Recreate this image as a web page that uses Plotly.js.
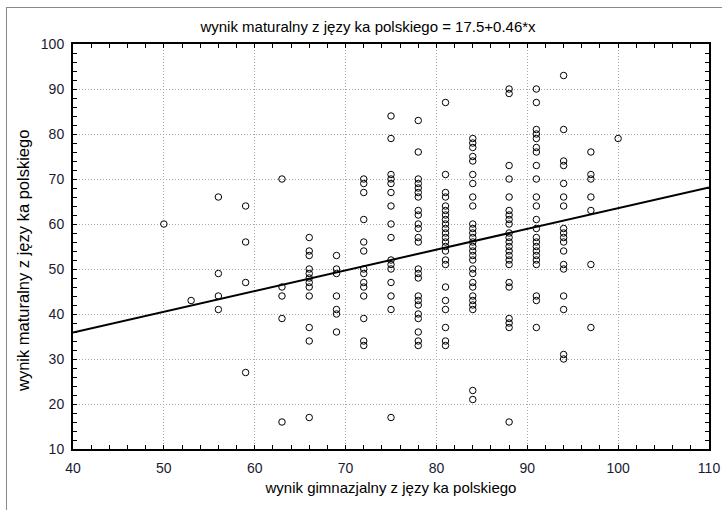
<!DOCTYPE html>
<html>
<head>
<meta charset="utf-8">
<script src="https://cdn.plot.ly/plotly-3.0.1.min.js"></script>
<style>
  html, body { margin: 0; padding: 0; background: #fff; }
  #frame { position: absolute; left: 6px; top: 7px; width: 716px; height: 503px;
           border-left: 1px solid #8a8a8a; border-top: 1px solid #8a8a8a; box-sizing: border-box; pointer-events: none; z-index: 5; }
  #chart { width: 724px; height: 510px; }
</style>
</head>
<body>
<div id="frame"></div>
<div id="chart"></div>
<script>
// Lower-secondary exam score (x) and matura score (y) in Polish, grouped by x value
const gimnazjalny = [50, 53, 56, 59, 63, 66, 69, 72, 75, 78, 81, 84, 88, 91, 94, 97, 100];
const maturalny = [
  [60],
  [43],
  [66, 49, 44, 41],
  [64, 56, 47, 27],
  [70, 46, 44, 39, 16],
  [57, 54, 53, 50, 49, 48, 47, 46, 44, 37, 34, 17],
  [53, 50, 49, 44, 41, 40, 36],
  [70, 69, 67, 61, 56, 54, 50, 49, 47, 46, 44, 39, 34, 33],
  [84, 79, 71, 70, 69, 67, 64, 60, 57, 52, 51, 50, 47, 44, 41, 17],
  [83, 76, 70, 69, 68, 67, 66, 63, 62, 60, 59, 57, 56, 50, 49, 48, 44, 43, 42, 40, 39, 36, 34, 33],
  [87, 71, 67, 66, 64, 63, 62, 61, 60, 59, 58, 57, 56, 55, 54, 52, 51, 46, 43, 41, 37, 34, 33],
  [79, 78, 77, 75, 74, 71, 69, 66, 64, 60, 59, 58, 57, 56, 55, 54, 53, 52, 50, 49, 47, 46, 44, 43, 42, 41, 23, 21],
  [90, 89, 73, 70, 66, 63, 62, 61, 60, 58, 57, 56, 55, 54, 53, 52, 51, 47, 46, 39, 38, 37, 16],
  [90, 87, 81, 80, 79, 77, 76, 73, 70, 66, 64, 61, 59, 57, 56, 55, 54, 53, 52, 51, 44, 43, 37],
  [93, 81, 74, 73, 69, 66, 64, 59, 58, 57, 56, 54, 51, 50, 44, 41, 31, 30],
  [76, 71, 70, 66, 63, 51, 37],
  [79]
];

// Regression line coefficients, as stated in the title
const intercept = 17.5;
const slope = 0.46;
const lineX = [40, 110];

const xTickVals = [40, 50, 60, 70, 80, 90, 100, 110];
const yTickVals = [10, 20, 30, 40, 50, 60, 70, 80, 90, 100];

const titleText = 'wynik maturalny z języ ka polskiego = 17.5+0.46*x';
const xTitleText = 'wynik gimnazjalny z języ ka polskiego';
const yTitleText = 'wynik maturalny z języ ka polskiego';

const px = [], py = [];
gimnazjalny.forEach((g, i) => maturalny[i].forEach(m => { px.push(g); py.push(m); }));

const font = 'Liberation Sans, Arial, sans-serif';
const tickFont = { family: font, size: 14, color: '#1a1a33' };

const axisCommon = {
  showline: true, linecolor: '#000', linewidth: 2, mirror: 'ticks',
  ticks: 'inside', ticklen: 4, tickcolor: '#000', tickwidth: 1,
  showgrid: true, gridcolor: '#a8a8a8', griddash: '1px,2px', gridwidth: 1,
  zeroline: false, tickfont: tickFont,
  minor: { dtick: 2, ticks: 'inside', ticklen: 4, tickcolor: '#000', tickwidth: 1, showgrid: false }
};

const data = [
  {
    type: 'scatter', mode: 'markers', x: px, y: py,
    marker: { symbol: 'circle-open', size: 6.5, color: '#000', line: { width: 1, color: '#000' } },
    hoverinfo: 'x+y'
  },
  {
    type: 'scatter', mode: 'lines', x: lineX, y: lineX.map(v => intercept + slope * v),
    line: { color: '#000', width: 2 }, hoverinfo: 'skip'
  }
];

const layout = {
  width: 724, height: 510,
  margin: { l: 73, r: 15, t: 44, b: 61 },
  paper_bgcolor: '#fff', plot_bgcolor: '#fff',
  showlegend: false,
  title: {
    text: titleText,
    font: { family: font, size: 15, color: '#000' },
    xref: 'paper', x: (368 - 73) / 636, xanchor: 'center',
    yref: 'container', y: 1 - 27 / 510, yanchor: 'middle'
  },
  xaxis: Object.assign({}, axisCommon, {
    range: [40, 110], tickvals: xTickVals, ticklabelstandoff: 5,
    title: { text: xTitleText, font: { family: font, size: 15, color: '#000' }, standoff: 8 }
  }),
  yaxis: Object.assign({}, axisCommon, {
    range: [10, 100], tickvals: yTickVals, ticklabelstandoff: 4
  }),
  annotations: [
    {
      text: yTitleText, textangle: -90, showarrow: false,
      font: { family: font, size: 16.5, color: '#000' },
      xref: 'paper', x: (23 - 73) / 636, xanchor: 'center',
      yref: 'paper', y: (449 - 261) / 405, yanchor: 'middle'
    }
  ]
};

Plotly.newPlot('chart', data, layout, { staticPlot: true, displayModeBar: false });
</script>
</body>
</html>
